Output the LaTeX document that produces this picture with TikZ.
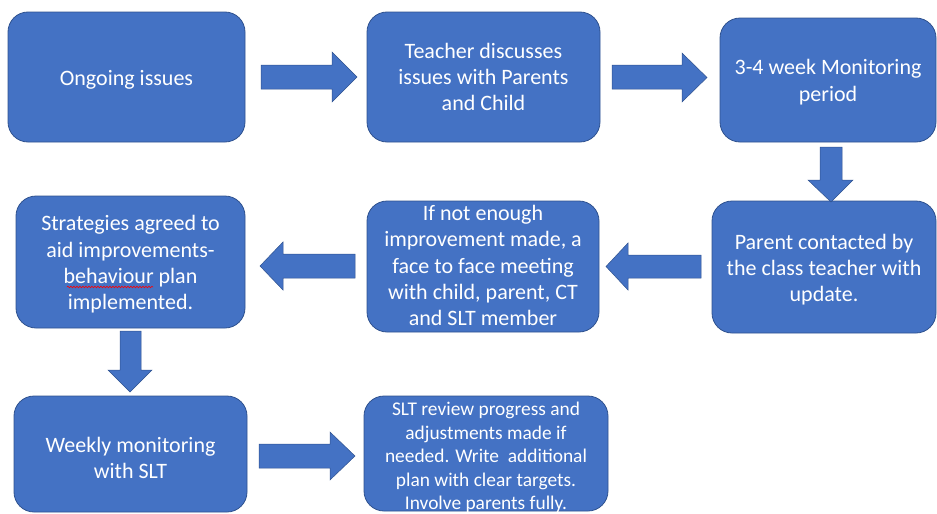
\documentclass[tikz,border=0pt]{standalone}
\usepackage{fontspec}
\setmainfont{Carlito}
\usetikzlibrary{decorations.pathmorphing}
\definecolor{boxblue}{HTML}{4472C4}
\definecolor{edgeblue}{HTML}{2F528F}
\tikzset{
  stepbox/.style={draw=edgeblue, line width=0.8pt, fill=boxblue, rounded corners=20pt,
    inner sep=0pt},
  boxtext/.style={inner sep=0pt, align=center, text=white,
    font=\fontsize{22}{26.3}\selectfont},
  smalltext/.style={font=\fontsize{19.4}{23.5}\selectfont},
  blockarrow/.style={draw=edgeblue, line width=0.5pt, fill=boxblue, line join=miter},
  spell/.style={draw=red, line width=0.6pt, decorate,
    decoration={snake, segment length=3pt, amplitude=0.8pt}}
}
\begin{document}
\begin{tikzpicture}[x=1pt,y=-1pt]
\useasboundingbox (0,0) rectangle (937,514);
% boxes
\node[stepbox, minimum width=237pt, minimum height=130pt] (b1) at (126.5,77) {};
\node[stepbox, minimum width=233pt, minimum height=130pt] (b2) at (483.5,77) {};
\node[stepbox, minimum width=216pt, minimum height=124pt] (b3) at (828,80) {};
\node[stepbox, minimum width=224pt, minimum height=132pt] (b4) at (824,267) {};
\node[stepbox, minimum width=232pt, minimum height=131pt] (b5) at (483,266.5) {};
\node[stepbox, minimum width=229pt, minimum height=132pt] (b6) at (130.5,262) {};
\node[stepbox, minimum width=233pt, minimum height=116pt] (b7) at (130.5,454) {};
\node[stepbox, minimum width=244pt, minimum height=115pt] (b8) at (486,453.5) {};
% texts
\node[boxtext] (t1) at ([yshift=-3pt]b1.center) {Ongoing issues};
\node[boxtext] (t2) at (b2.center) {Teacher discusses\\issues with Parents\\and Child};
\node[boxtext] (t3) at ([yshift=-2pt]b3.center) {3-4 week Monitoring\\period};
\node[boxtext] (t4) at ([yshift=-2.5pt]b4.center) {Parent contacted by\\the class teacher with\\update.};
\node[boxtext] (t5) at ([yshift=1pt]b5.center) {If not enough\\improvement made, a\\face to face meeting\\with child, parent, CT\\and SLT member};
\node[boxtext] (t6) at ([yshift=-2.5pt]b6.center) {Strategies agreed to\\aid improvements-\\behaviour plan\\implemented.};
\node[boxtext] (t7) at ([yshift=-4pt]b7.center) {Weekly monitoring\\with SLT};
\node[boxtext, smalltext] (t8) at ([yshift=-4pt]b8.center) {SLT review progress and\\adjustments made if\\needed. Write\ \ additional\\plan with clear targets.\\Involve parents fully.};
% spell-check underline
\draw[spell] (67,287) -- (153,287);
% block arrows
\path[blockarrow] (261,65) -- (332,65) -- (332,52) -- (357,77) -- (332,102) -- (332,89) -- (261,89) -- cycle;
\path[blockarrow] (612,65) -- (682,65) -- (682,53) -- (707,77.5) -- (682,102) -- (682,89) -- (612,89) -- cycle;
\path[blockarrow] (820,147) -- (842,147) -- (842,180) -- (853,180) -- (831,202) -- (808,180) -- (820,180) -- cycle;
\path[blockarrow] (701,255) -- (628,255) -- (628,243) -- (606,266.5) -- (628,290) -- (628,278) -- (701,278) -- cycle;
\path[blockarrow] (355,254) -- (283,254) -- (283,242) -- (260,266) -- (283,290) -- (283,278) -- (355,278) -- cycle;
\path[blockarrow] (120,331) -- (141,331) -- (141,370) -- (152,370) -- (130,392) -- (108,370) -- (120,370) -- cycle;
\path[blockarrow] (259,444) -- (330,444) -- (330,432) -- (355,456) -- (330,480) -- (330,468) -- (259,468) -- cycle;
\end{tikzpicture}
\end{document}
